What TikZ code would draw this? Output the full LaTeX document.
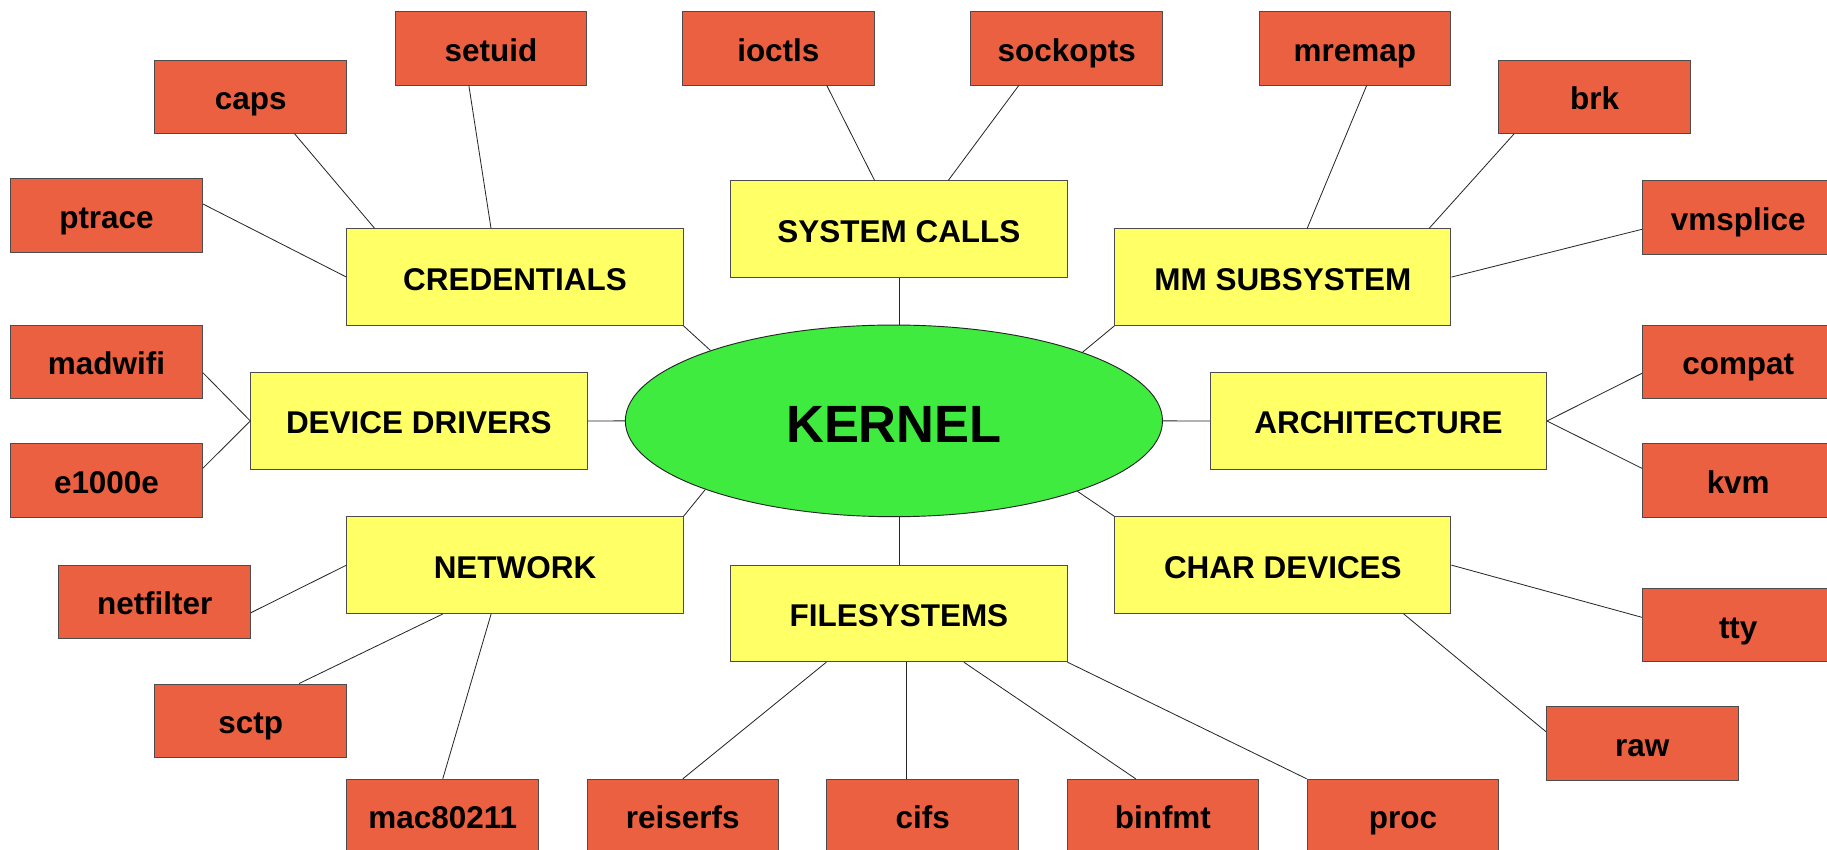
\documentclass[tikz,border=0pt]{standalone}
\usepackage{fontspec}
\setmainfont{Liberation Sans}
\usetikzlibrary{shapes.geometric,calc}
\definecolor{redbox}{RGB}{234,96,64}
\definecolor{yellowbox}{RGB}{255,255,102}
\definecolor{kgreen}{RGB}{62,235,62}
\begin{document}
\begin{tikzpicture}[x=1pt,y=-1pt,
  leaf/.style={rectangle, draw=black!70, line width=0.8pt, fill=redbox,
    minimum width=164.5pt, minimum height=63pt, inner sep=0pt,
    font=\fontsize{27pt}{32pt}\selectfont\bfseries, text height=22.2pt, text depth=0pt},
  sub/.style={rectangle, draw=black!70, line width=0.8pt, fill=yellowbox,
    minimum width=288.5pt, minimum height=83pt, inner sep=0pt,
    font=\fontsize{27pt}{32pt}\selectfont\bfseries, text height=22.2pt, text depth=0pt},
  core/.style={ellipse, draw=black!85, line width=0.8pt, fill=kgreen,
    minimum width=461pt, minimum height=164.5pt, inner sep=0pt,
    font=\fontsize{45pt}{50pt}\selectfont\bfseries, text height=37.4pt, text depth=0pt},
  link/.style={draw=black!85, line width=0.7pt}]
\useasboundingbox (0,0) rectangle (1568,729);
\fill[white] (0,0) rectangle (1568,729);

% core
\node[core] (kernel) at (767.2,361.2) {KERNEL};

% subsystems
\node[sub] (cred) at (442,237.8) {CREDENTIALS};
\node[sub] (syscalls) at (771.5,196.8) {SYSTEM CALLS};
\node[sub] (mm) at (1101,237.8) {MM SUBSYSTEM};
\node[sub] (devdrv) at (359.5,361.3) {DEVICE DRIVERS};
\node[sub] (arch) at (1183,361.3) {ARCHITECTURE};
\node[sub] (network) at (442,485) {NETWORK};
\node[sub] (fs) at (771.5,526.4) {FILESYSTEMS};
\node[sub] (chardev) at (1101,485) {CHAR DEVICES};

% leaves
\node[leaf] (setuid) at (421.4,41.5) {setuid};
\node[leaf] (caps) at (215.2,83) {caps};
\node[leaf] (ptrace) at (91.4,184.8) {ptrace};
\node[leaf] (ioctls) at (668,41.5) {ioctls};
\node[leaf] (sockopts) at (915.5,41.5) {sockopts};
\node[leaf] (mremap) at (1162.8,41.5) {mremap};
\node[leaf] (brk) at (1368.5,83) {brk};
\node[leaf] (vmsplice) at (1491.8,186.8) {vmsplice};
\node[leaf] (madwifi) at (91.4,310.4) {madwifi};
\node[leaf] (e1000e) at (91.4,412.5) {e1000e};
\node[leaf] (compat) at (1491.8,310.4) {compat};
\node[leaf] (kvm) at (1491.8,412.5) {kvm};
\node[leaf] (netfilter) at (132.8,516.4) {netfilter};
\node[leaf] (sctp) at (215.2,618.5) {sctp};
\node[leaf] (mac80211) at (380,700.3) {mac80211};
\node[leaf] (reiserfs) at (586,700.3) {reiserfs};
\node[leaf] (cifs) at (791.9,700.3) {cifs};
\node[leaf] (binfmt) at (998,700.3) {binfmt};
\node[leaf] (proc) at (1204.1,700.3) {proc};
\node[leaf] (tty) at (1491.8,536.5) {tty};
\node[leaf] (raw) at (1409.5,638) {raw};

% connectors to kernel
\draw[link] (syscalls.south) -- (syscalls.south |- kernel.north);
\draw[link] (fs.north) -- (fs.north |- kernel.south);
\draw[link] (devdrv.east) -- (kernel.west);
\draw[link] (kernel.east) -- (arch.west);
\draw[link] (cred.south east) -- (kernel.159.5);
\draw[link] (mm.south west) -- (kernel.20.5);
\draw[link] (network.north east) -- (kernel.200.5);
\draw[link] (chardev.north west) -- (kernel.339.5);

% credentials
\draw[link] ([yshift=9.8pt]ptrace.east) -- (cred.west);
\draw[link] ([xshift=37.7pt]caps.south) -- ([xshift=24.1pt]cred.north west);
\draw[link] ([xshift=-19pt]setuid.south) -- ([xshift=-20.6pt]cred.north);

% system calls
\draw[link] ([xshift=41.6pt]ioctls.south) -- ([xshift=-20.9pt]syscalls.north);
\draw[link] ([xshift=-41.2pt]sockopts.south) -- ([xshift=42.3pt]syscalls.north);

% mm
\draw[link] ([xshift=10.1pt]mremap.south) -- ([xshift=20.9pt]mm.north);
\draw[link] ([xshift=-69.1pt]brk.south) -- ([xshift=125.6pt]mm.north);
\draw[link] ([yshift=-10pt]vmsplice.west) -- (mm.east);

% device drivers
\draw[link] ([yshift=-9.4pt]madwifi.east) -- (devdrv.west);
\draw[link] ([yshift=10.6pt]e1000e.east) -- (devdrv.west);

% architecture
\draw[link] (arch.east) -- ([yshift=-10pt]compat.west);
\draw[link] (arch.east) -- ([yshift=10.6pt]kvm.west);

% network
\draw[link] ([yshift=-9.4pt]netfilter.east) -- (network.west);
\draw[link] ([xshift=41.5pt]sctp.north) -- ([xshift=-61.9pt]network.south);
\draw[link] (mac80211.north) -- ([xshift=-20.5pt]network.south);

% filesystems
\draw[link] (reiserfs.north) -- ([xshift=-62.3pt]fs.south);
\draw[link] ([xshift=-13.7pt]cifs.north) -- ([xshift=6.7pt]fs.south);
\draw[link] ([xshift=-23.3pt]binfmt.north) -- ([xshift=55.7pt]fs.south);
\draw[link] (fs.south east) -- (proc.north west);

% char devices
\draw[link] (chardev.east) -- ([yshift=6.7pt]tty.west);
\draw[link] ([xshift=103.7pt]chardev.south) -- ([yshift=10pt]raw.west);
\end{tikzpicture}
\end{document}
